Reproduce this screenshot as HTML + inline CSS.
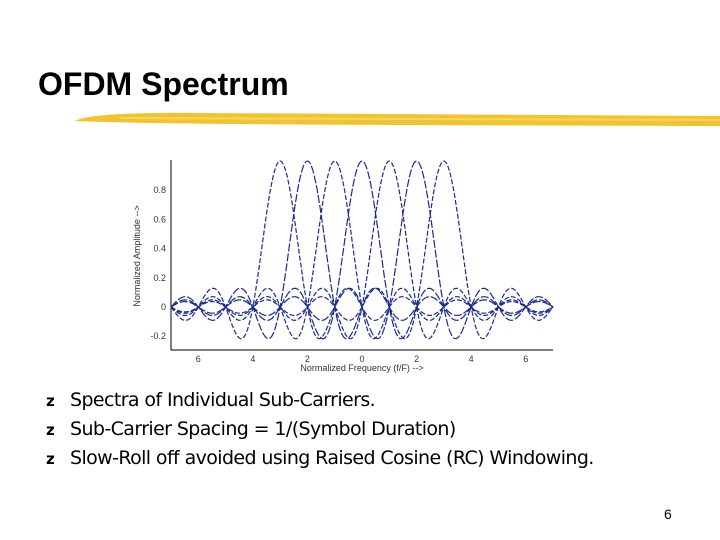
<!DOCTYPE html>
<html><head><meta charset="utf-8"><style>
body{margin:0;width:720px;height:540px;background:#fff;position:relative;overflow:hidden;font-family:"Liberation Sans",sans-serif}
.t{position:absolute;left:38px;top:66px;font-size:32px;font-weight:bold;color:#000;letter-spacing:0px}
.b{position:absolute;left:46px;font-size:19px;color:#000;font-family:"DejaVu Sans","Liberation Sans",sans-serif;letter-spacing:-0.6px}
.b span{display:inline-block;width:24px;font-size:15px;font-weight:bold}
</style></head><body>
<div class="t">OFDM Spectrum</div>
<svg width="720" height="540" style="position:absolute;left:0;top:0">
<path d="M75 121 Q90 112 200 113 L720 116 L720 126 L400 125 Q150 124 75 121 Z" fill="#f3c230"/>
<path d="M120 118 L720 120" stroke="#f8d85a" stroke-width="2"/>
</svg>
<svg id="chart" width="720" height="540" style="position:absolute;left:0;top:0"></svg>
<div class="b" style="top:389px"><span>z</span>Spectra of Individual Sub-Carriers.</div>
<div class="b" style="top:418px"><span>z</span>Sub-Carrier Spacing = 1/(Symbol Duration)</div>
<div class="b" style="top:447px"><span>z</span>Slow-Roll off avoided using Raised Cosine (RC) Windowing.</div>
<div style="position:absolute;left:664px;top:506px;font-size:14px">6</div>
<script>
const centers=[-3,-2,-1,0,1,2,3];
const amplitudes=[1,1,1,1,1,1,1];
const xTicks=[-6,-4,-2,0,2,4,6];
const xTickLabels=["6","4","2","0","2","4","6"];
const yTicks=[-0.2,0,0.2,0.4,0.6,0.8];
const yTickLabels=["-0.2","0","0.2","0.4","0.6","0.8"];
const X0=171,X1=553,xmin=-7,xmax=7,Y0=307,ys=146;
const sx=v=>X0+(v-xmin)/(xmax-xmin)*(X1-X0);
const sy=v=>Y0-v*ys;
const svg=document.getElementById('chart');
const NS='http://www.w3.org/2000/svg';
function mk(t,a){const e=document.createElementNS(NS,t);for(const k in a)e.setAttribute(k,a[k]);svg.appendChild(e);return e;}
let ax=mk('path',{d:`M${X0} 160 L${X0} 350 L${X1} 350`,stroke:'#000',fill:'none','stroke-width':1});


xTicks.forEach((v,i)=>{const t=mk('text',{x:sx(v),y:362,'font-size':9,'text-anchor':'middle',fill:'#333'});t.textContent=xTickLabels[i];

});
yTicks.forEach((v,i)=>{const t=mk('text',{x:166,y:sy(v)+3,'font-size':9,'text-anchor':'end',fill:'#333'});t.textContent=yTickLabels[i];

});
const xl=mk('text',{x:362,y:371,'font-size':9,'text-anchor':'middle',fill:'#333'});xl.textContent='Normalized Frequency (f/F) -->';


const yl=mk('text',{x:140,y:256,'font-size':9,'text-anchor':'middle',fill:'#333',transform:'rotate(-90 140 256)'});yl.textContent='Normalized Amplitude -->';


const sinc=x=>Math.abs(x)<1e-9?1:Math.sin(Math.PI*x)/(Math.PI*x);
centers.forEach((c,i)=>{let d='';for(let x=xmin;x<=xmax+1e-9;x+=0.05){d+=(d?'L':'M')+sx(x).toFixed(1)+' '+sy(amplitudes[i]*sinc(x-c)).toFixed(1);}
const p=mk('path',{d,stroke:'#1c2a90',fill:'none','stroke-width':1.2,'stroke-dasharray':i%2?'8 2':'5 2'});

});
</script>
</body></html>
